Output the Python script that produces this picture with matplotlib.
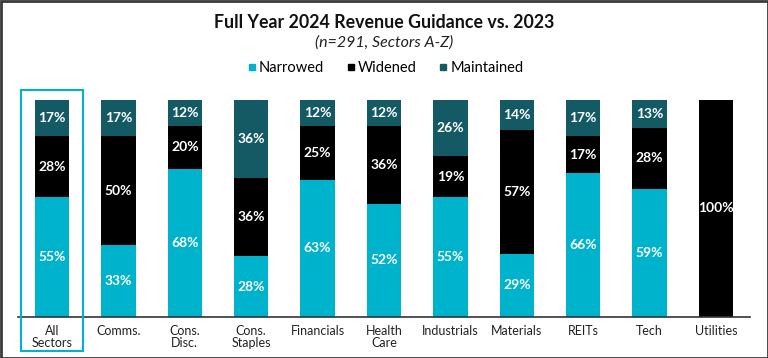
import matplotlib
matplotlib.use("Agg")
import matplotlib.pyplot as plt
from matplotlib.patches import Rectangle
from matplotlib.lines import Line2D

categories = ["All\nSectors", "Comms.", "Cons.\nDisc.", "Cons.\nStaples", "Financials",
              "Health\nCare", "Industrials", "Materials", "REITs", "Tech", "Utilities"]
narrowed = [55, 33, 68, 28, 63, 52, 55, 29, 66, 59, 0]
widened = [28, 50, 20, 36, 25, 36, 19, 57, 17, 28, 100]
maintained = [17, 17, 12, 36, 12, 12, 26, 14, 17, 13, 0]

C_NAR = "#00B3CC"
C_WID = "#000000"
C_MAI = "#145A64"

plt.rcParams['font.family'] = ['Lato', 'DejaVu Sans']

W, H = 768, 358
fig = plt.figure(figsize=(W / 100, H / 100), dpi=100)

left, right, top, bottom = 18, 750, 99.5, 317
ax = fig.add_axes([left / W, (H - bottom) / H, (right - left) / W, (bottom - top) / H])

x = list(range(len(categories)))
bw = 0.52
bot2 = [a + b for a, b in zip(narrowed, widened)]
ax.bar(x, narrowed, width=bw, color=C_NAR, label="Narrowed")
ax.bar(x, widened, width=bw, bottom=narrowed, color=C_WID, label="Widened")
ax.bar(x, maintained, width=bw, bottom=bot2, color=C_MAI, label="Maintained")

for i in x:
    segs = [(0, narrowed[i]), (narrowed[i], widened[i]), (bot2[i], maintained[i])]
    for b, v in segs:
        if v > 0:
            ax.text(i, b + v / 2, f"{v}%", ha="center", va="center", color="white",
                    fontsize=10, fontweight="bold")

ax.set_xlim(-0.512, len(categories) - 1 + 0.512)
ax.set_ylim(0, 100)
ax.set_yticks([])
ax.set_xticks(x)
ax.set_xticklabels(categories, fontsize=9, color="#222222", linespacing=1.0)
ax.tick_params(axis="x", length=0, pad=6)
for s in ["top", "right", "left"]:
    ax.spines[s].set_visible(False)
ax.spines["bottom"].set_color("#333333")
ax.spines["bottom"].set_linewidth(1.2)
ax.patch.set_alpha(0)

# highlight box around All Sectors
fig.patches.append(Rectangle((20.5 / W, (H - 351) / H), 62 / W, 261 / H,
                             transform=fig.transFigure, fill=False,
                             edgecolor=C_NAR, linewidth=1.5))
# outer border
fig.patches.append(Rectangle((0.5 / W, 0.5 / H), (W - 1) / W, (H - 1) / H,
                             transform=fig.transFigure, fill=False,
                             edgecolor="#3a3a3a", linewidth=2.0))

fig.text(0.5, (H - 22) / H, "Full Year 2024 Revenue Guidance vs. 2023", ha="center",
         va="center", fontsize=12.8, fontweight="bold", color="#111111")
fig.text(0.5, (H - 43) / H, "(n=291, Sectors A-Z)", ha="center", va="center",
         fontsize=11.5, style="italic", color="#222222")

handles = [Line2D([], [], marker="s", linestyle="", markersize=5, color=c)
           for c in (C_NAR, C_WID, C_MAI)]
fig.legend(handles, ["Narrowed", "Widened", "Maintained"], loc="center",
           bbox_to_anchor=(0.5, (H - 68) / H), ncol=3, frameon=False,
           fontsize=10.5, handletextpad=0.0, columnspacing=1.3, handlelength=1.0)

fig.savefig("out.png", dpi=100)
